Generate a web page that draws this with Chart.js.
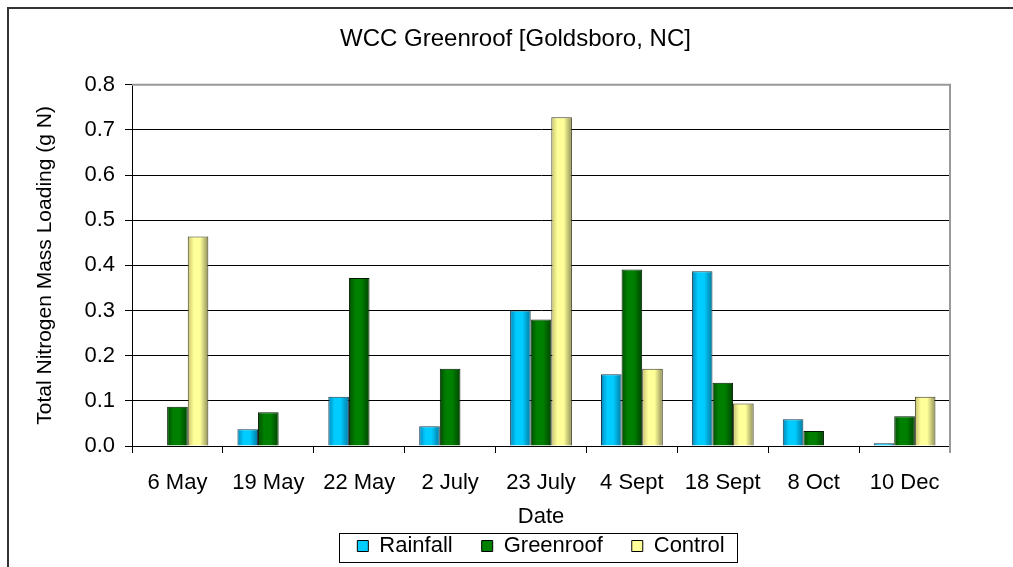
<!DOCTYPE html>
<html>
<head>
<meta charset="utf-8">
<script src="https://cdn.jsdelivr.net/npm/chart.js@4/dist/chart.umd.min.js"></script>
<style>
html, body { margin: 0; padding: 0; background: #fff; overflow: hidden; }
#marco { position: absolute; left: 7px; top: 7px; width: 1100px; height: 700px; border-left: 2px solid #333; border-top: 2px solid #333; }
#canvas { position: absolute; left: 0; top: 0; }
</style>
</head>
<body>
<div id="marco"></div>
<canvas id="canvas" width="1013" height="567"></canvas>
<script>
// datos (g N)
var fechas = ['6 May', '19 May', '22 May', '2 July', '23 July', '4 Sept', '18 Sept', '8 Oct', '10 Dec'];
var lluvia = [null, 0.037, 0.109, 0.044, 0.300, 0.159, 0.387, 0.059, 0.006];
var techoVerde = [0.087, 0.075, 0.372, 0.171, 0.280, 0.391, 0.140, 0.033, 0.066];
var control = [0.464, null, null, null, 0.728, 0.171, 0.094, null, 0.109];

var PCT_CAT = 0.68;
var fuente = "'Liberation Sans', Arial, sans-serif";

// degradado horizontal por barra, como las barras con relieve de excel
function degradado(colores, serie) {
    return function(context) {
        var chart = context.chart;
        var x = chart.scales.x;
        if (!x || context.type !== 'data') return colores[1];
        var cat = x.width / fechas.length;
        var ancho = cat * PCT_CAT / 3;
        var ini = x.getPixelForValue(context.dataIndex) - cat * PCT_CAT / 2 + serie * ancho;
        var g = chart.ctx.createLinearGradient(ini, 0, ini + ancho, 0);
        g.addColorStop(0, colores[0]);
        g.addColorStop(0.3, colores[1]);
        g.addColorStop(0.6, colores[1]);
        g.addColorStop(1, colores[2]);
        return g;
    };
}

var colLluvia = ['#0088bb', '#00ccff', '#00779f'];
var colVerde = ['#004d00', '#008000', '#004400'];
var colControl = ['#c8c070', '#ffff99', '#8f8f5a'];

var bordes = {
    id: 'bordes',
    afterDraw: function(chart) {
        var ctx = chart.ctx;
        var a = chart.chartArea;
        ctx.save();
        ctx.strokeStyle = '#999';
        ctx.lineWidth = 2;
        ctx.beginPath();
        ctx.moveTo(a.left, a.top);
        ctx.lineTo(a.right, a.top);
        ctx.lineTo(a.right, a.bottom + 7);
        ctx.stroke();
        // recuadro de la leyenda
        var cajas = chart.legend.legendHitBoxes;
        if (cajas && cajas.length) {
            var x0 = Infinity, x1 = -Infinity, y0 = Infinity, y1 = -Infinity;
            cajas.forEach(function(c) {
                x0 = Math.min(x0, c.left); x1 = Math.max(x1, c.left + c.width);
                y0 = Math.min(y0, c.top); y1 = Math.max(y1, c.top + c.height);
            });
            ctx.strokeStyle = '#000';
            ctx.lineWidth = 1;
            ctx.strokeRect(Math.round(x0 - 18) + 0.5, Math.round(y0 - 2) + 0.5, Math.round(x1 - x0 + 31), Math.round(y1 - y0 + 7));
        }
        ctx.restore();
    }
};

var ctx = document.getElementById('canvas');
var grafico = new Chart(ctx, {
    type: 'bar',
    data: {
        labels: fechas,
        datasets: [
            { label: 'Rainfall', data: lluvia, backgroundColor: degradado(colLluvia, 0), borderColor: '#1a3a4a', borderWidth: 1 },
            { label: 'Greenroof', data: techoVerde, backgroundColor: degradado(colVerde, 1), borderColor: '#001a00', borderWidth: 1 },
            { label: 'Control', data: control, backgroundColor: degradado(colControl, 2), borderColor: '#3a3a20', borderWidth: 1 }
        ]
    },
    options: {
        responsive: false,
        devicePixelRatio: 1,
        animation: false,
        datasets: { bar: { categoryPercentage: PCT_CAT, barPercentage: 1, skipNull: false } },
        layout: { padding: { left: 18, right: 0, top: 0, bottom: 0 } },
        plugins: {
            title: {
                display: true,
                text: 'WCC Greenroof [Goldsboro, NC]',
                color: '#000',
                font: { family: fuente, size: 24, weight: 'normal' },
                padding: { top: 25, bottom: 31 }
            },
            legend: {
                position: 'bottom',
                fullSize: false,
                labels: {
                    color: '#000',
                    font: { family: fuente, size: 22 },
                    boxWidth: 11,
                    boxHeight: 11,
                    padding: 29,
                    generateLabels: function(chart) {
                        var cols = [colLluvia, colVerde, colControl];
                        return chart.data.datasets.map(function(d, i) {
                            return { text: d.label, fillStyle: cols[i][1], strokeStyle: '#000', lineWidth: 1, datasetIndex: i, fontColor: '#000' };
                        });
                    }
                }
            },
            tooltip: { enabled: false }
        },
        scales: {
            x: {
                afterFit: function(s) { s.height = 60; },
                grid: { offset: true, drawOnChartArea: false, tickLength: 7, color: '#000' },
                border: { color: '#000', width: 1 },
                ticks: { color: '#000', font: { family: fuente, size: 22 }, padding: 17, maxRotation: 0 },
                title: { display: true, text: 'Date', color: '#000', font: { family: fuente, size: 22 }, padding: { top: 0, bottom: -24 } }
            },
            y: {
                min: 0,
                max: 0.8,
                afterFit: function(s) { s.width = 114; },
                grid: { color: '#000', lineWidth: 1, tickLength: 7 },
                border: { color: '#000', width: 1 },
                ticks: {
                    stepSize: 0.1,
                    color: '#000',
                    padding: 10,
                    font: { family: fuente, size: 22 },
                    callback: function(v) { return v.toFixed(1); }
                },
                title: { display: true, text: 'Total Nitrogen Mass Loading (g N)', color: '#000', font: { family: fuente, size: 21 }, padding: { top: 15, bottom: 0 } }
            },
            // eje vacio a la derecha, solo reserva el margen
            margenDer: {
                type: 'linear',
                position: 'right',
                afterFit: function(s) { s.width = 63; },
                grid: { display: false },
                border: { display: false },
                ticks: { display: false }
            }
        }
    },
    plugins: [bordes]
});
</script>
</body>
</html>
